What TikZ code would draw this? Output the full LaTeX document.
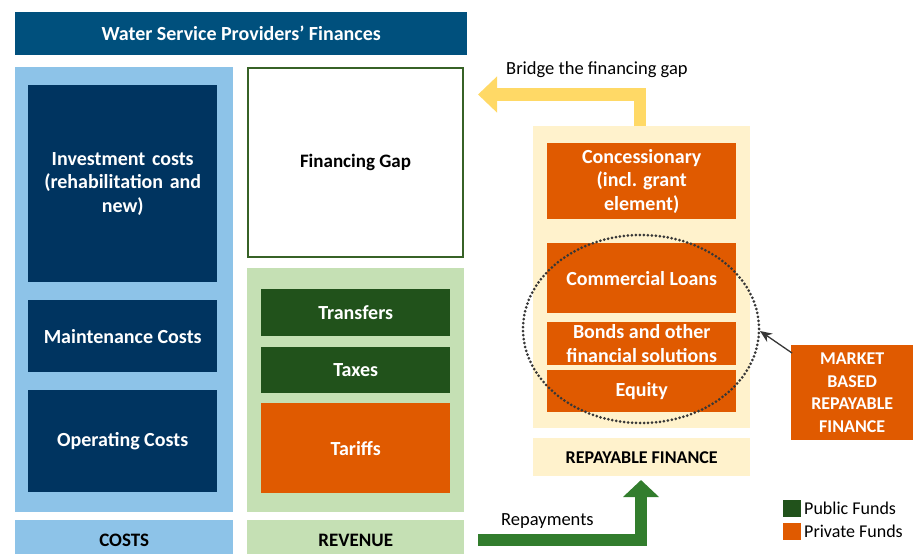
\documentclass[tikz,border=0pt]{standalone}
\usepackage{fontspec}
\setmainfont{Carlito}
\usetikzlibrary{arrows.meta,positioning}
\definecolor{titleblue}{RGB}{0,80,125}
\definecolor{navy}{RGB}{0,52,96}
\definecolor{lightblue}{RGB}{141,195,232}
\definecolor{lightgreen}{RGB}{197,224,180}
\definecolor{darkgreen}{RGB}{33,82,27}
\definecolor{orng}{RGB}{224,90,0}
\definecolor{lightyellow}{RGB}{255,242,204}
\definecolor{arrowyellow}{RGB}{255,217,102}
\definecolor{arrowgreen}{RGB}{50,125,45}
\definecolor{gapgreen}{RGB}{55,98,38}
\definecolor{dotgray}{RGB}{55,55,55}
\tikzset{
  box/.style={draw=none, inner sep=0pt, anchor=north west, font=\fontsize{20}{23.5}\selectfont\bfseries, text=white, align=center},
  panel/.style={draw=none, inner sep=0pt, anchor=north west},
  barlabel/.style={draw=none, inner sep=0pt, anchor=north west, font=\fontsize{19}{23}\selectfont\bfseries, text=black, align=center},
  plain/.style={font=\fontsize{18.5}{22}\selectfont, text=black, inner sep=0pt},
}
\begin{document}
\begin{tikzpicture}[x=1pt,y=-1pt]
\useasboundingbox (0,0) rectangle (913,554);
% title
\node[box, fill=titleblue, minimum width=452, minimum height=43] (title) at (15,12) {Water Service Providers’ Finances};
% costs column
\node[panel, fill=lightblue, minimum width=218, minimum height=445] (costs) at (15,67) {};
\node[box, fill=navy, minimum width=189, minimum height=197, text width=185] (invest) at (28,85) {Investment costs\\(rehabilitation and\\new)};
\node[box, fill=navy, minimum width=189, minimum height=72] (maint) at (28,300) {Maintenance Costs};
\node[box, fill=navy, minimum width=189, minimum height=102] (oper) at (28,390) {Operating Costs};
\node[barlabel, fill=lightblue, minimum width=218, minimum height=40] (costsbar) at (15,520) {COSTS};
% revenue column
\node[panel, draw=gapgreen, line width=2, fill=white, minimum width=215, minimum height=189, anchor=center, font=\fontsize{19}{23}\selectfont\bfseries] (gap) at (355.5,162.5) {Financing Gap};
\node[panel, fill=lightgreen, minimum width=217, minimum height=244] (rev) at (247,268) {};
\node[box, fill=darkgreen, minimum width=189, minimum height=47] (transfers) at (261,289) {Transfers};
\node[box, fill=darkgreen, minimum width=189, minimum height=46] (taxes) at (261,347) {Taxes};
\node[box, fill=orng, minimum width=189, minimum height=90] (tariffs) at (261,403) {Tariffs};
\node[barlabel, fill=lightgreen, minimum width=217, minimum height=40] (revbar) at (247,520) {REVENUE};
% repayable finance
\node[panel, fill=lightyellow, minimum width=217, minimum height=302] (reppanel) at (533,126) {};
\node[box, fill=orng, minimum width=189, minimum height=76] (conc) at (547,143) {Concessionary\\(incl. grant\\element)};
\node[box, fill=orng, minimum width=189, minimum height=70] (comm) at (547,243) {Commercial Loans};
\node[box, fill=orng, minimum width=189, minimum height=43] (bonds) at (547,322) {Bonds and other\\financial solutions};
\node[box, fill=orng, minimum width=189, minimum height=42] (equity) at (547,370) {Equity};
\node[barlabel, fill=lightyellow, minimum width=217, minimum height=38, font=\fontsize{18}{22}\selectfont\bfseries] (repbar) at (533,438) {REPAYABLE FINANCE};
% ellipse
\draw[dotgray, line width=3, dash pattern=on 0pt off 4pt, line cap=round] (641,329) ellipse [x radius=118, y radius=94];
\coordinate (ellE) at (760,331);
% market box
\node[box, fill=orng, minimum width=122, minimum height=95, font=\fontsize{18}{22.5}\selectfont\bfseries] (market) at (791,345) {MARKET\\BASED\\REPAYABLE\\FINANCE};
\coordinate (mk) at (792,353);
\draw[dotgray, line width=1.3, -{Stealth[length=12pt,width=10pt]}] (mk) -- (ellE);
% yellow arrow
\coordinate (ya) at (640,126);
\coordinate (yb) at (478,94.5);
\draw[arrowyellow, line width=12.5, line join=miter, -{Triangle[length=19pt,width=35pt]}] (ya) |- (yb);
\node[plain, anchor=west] (bridge) at (506,70) {Bridge the financing gap};
% green arrow
\coordinate (ga) at (478,539.5);
\coordinate (gb) at (641,480);
\draw[arrowgreen, line width=12, line join=miter, -{Triangle[length=17pt,width=35pt]}] (ga) -| (gb);
\node[plain, anchor=west] (repay) at (501,521) {Repayments};
% legend
\node[panel, fill=darkgreen, minimum width=18, minimum height=17] (lgpub) at (783,500) {};
\node[plain, anchor=west, font=\fontsize{18}{22}\selectfont] (lgpubt) at (804,508.5) {Public Funds};
\node[panel, fill=orng, minimum width=18, minimum height=17] (lgpri) at (783,523) {};
\node[plain, anchor=west, font=\fontsize{18}{22}\selectfont] (lgprit) at (804,531.5) {Private Funds};
\end{tikzpicture}
\end{document}
